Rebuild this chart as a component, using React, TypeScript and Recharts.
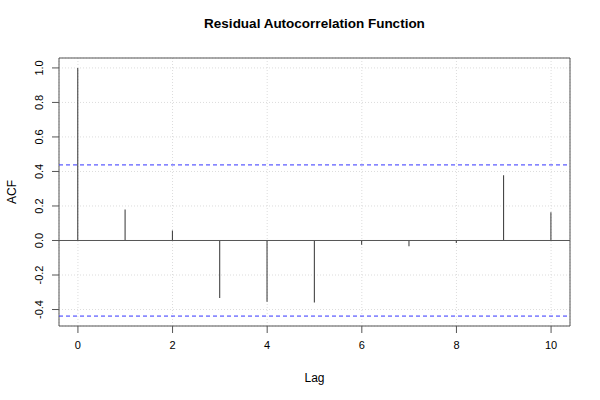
import { Bar, CartesianGrid, ComposedChart, ReferenceArea, ReferenceLine, XAxis, YAxis } from "recharts";

const lags = [0, 1, 2, 3, 4, 5, 6, 7, 8, 9, 10];
const acfValues = [1, 0.18, 0.058, -0.333, -0.355, -0.36, -0.025, -0.033, -0.014, 0.378, 0.163];
const ciBound = 0.438;
const xTicks = [0, 2, 4, 6, 8, 10];
const yTicks = [-0.4, -0.2, 0, 0.2, 0.4, 0.6, 0.8, 1.0];

const X_DOMAIN: [number, number] = [-0.4, 10.4];
const Y_DOMAIN: [number, number] = [-ciBound - 0.0575, 1.0575];

const FONT = "'Liberation Sans', Arial, Helvetica, sans-serif";

function YTick(props: any) {
  const { x, y, payload } = props;
  return (
    <text x={x} y={y} transform={`rotate(-90, ${x}, ${y})`} textAnchor="middle" fontSize={11} fill="#000">
      {Number(payload.value).toFixed(1)}
    </text>
  );
}

export default function App() {
  const data = lags.map((lag, i) => ({ lag, acf: acfValues[i] }));

  return (
    <div style={{ position: "absolute", left: 0, top: 0, width: 600, height: 400, background: "#fff", fontFamily: FONT }}>
      <div
        style={{
          position: "absolute",
          top: 15,
          left: 59,
          width: 511,
          textAlign: "center",
          fontSize: 13.5,
          fontWeight: "bold",
          lineHeight: "18px",
        }}
      >
        Residual Autocorrelation Function
      </div>
      <ComposedChart width={600} height={400} data={data} margin={{ top: 58, right: 30, bottom: 0, left: 0 }} style={{ fontFamily: FONT }}>
        <CartesianGrid stroke="#dcdcdc" strokeDasharray="1 2" />
        <XAxis
          dataKey="lag"
          type="number"
          domain={X_DOMAIN}
          ticks={xTicks}
          allowDataOverflow
          height={74}
          axisLine={false}
          tickSize={7}
          tickMargin={8}
          tick={{ fontSize: 11, fill: "#000" }}
          tickLine={{ stroke: "#555" }}
          label={{ value: "Lag", position: "center", dy: 15, fontSize: 12, fill: "#000" }}
        />
        <YAxis
          type="number"
          domain={Y_DOMAIN}
          ticks={yTicks}
          allowDataOverflow
          width={59}
          axisLine={false}
          tickSize={7}
          tickMargin={9}
          tick={<YTick />}
          tickLine={{ stroke: "#555" }}
          label={{ value: "ACF", position: "center", angle: -90, dx: -18, fontSize: 12, fill: "#000" }}
        />
        <ReferenceLine y={0} stroke="#555" />
        <ReferenceLine y={ciBound} stroke="#3333ff" strokeDasharray="4 3" />
        <ReferenceLine y={-ciBound} stroke="#3333ff" strokeDasharray="4 3" />
        <Bar dataKey="acf" barSize={1} fill="#333" isAnimationActive={false} />
        <ReferenceArea
          x1={X_DOMAIN[0]}
          x2={X_DOMAIN[1]}
          y1={Y_DOMAIN[0]}
          y2={Y_DOMAIN[1]}
          fill="none"
          stroke="#555"
          ifOverflow="visible"
        />
      </ComposedChart>
    </div>
  );
}
